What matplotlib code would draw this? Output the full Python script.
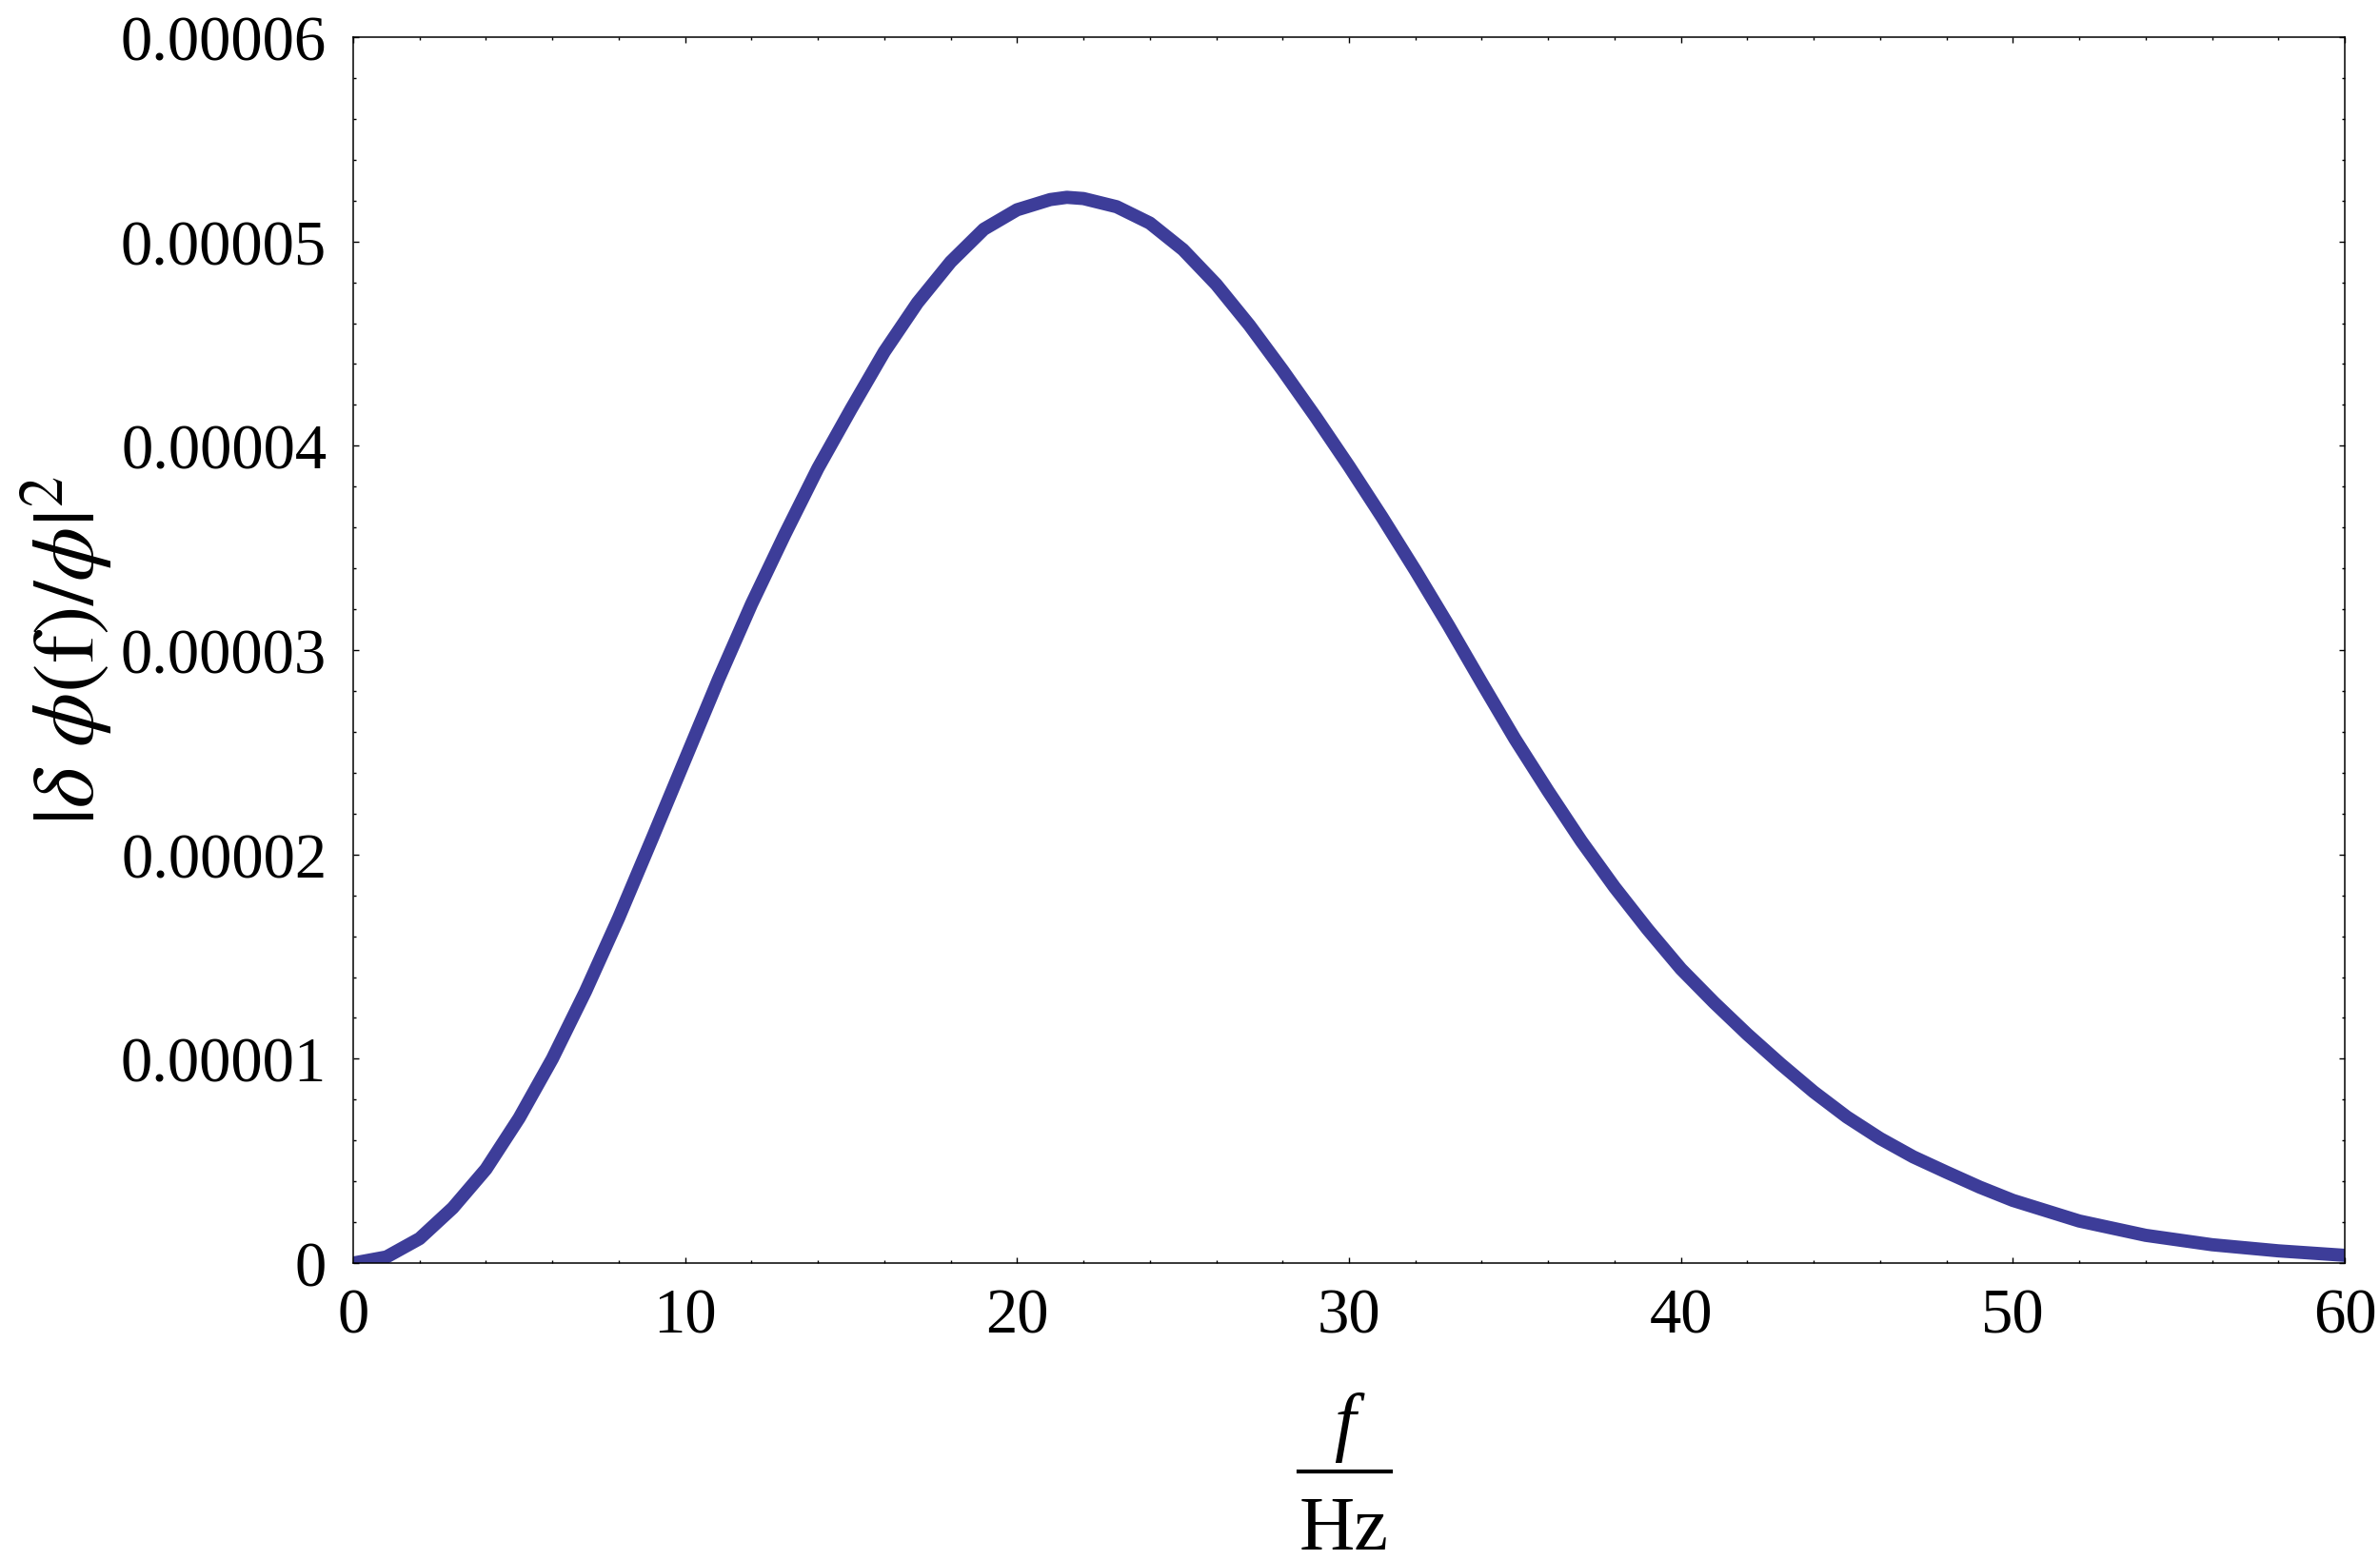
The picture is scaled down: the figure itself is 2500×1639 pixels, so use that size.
import numpy as np
import matplotlib
matplotlib.use("Agg")
import matplotlib.pyplot as plt
from matplotlib.lines import Line2D
from matplotlib.ticker import MultipleLocator, FixedLocator, FixedFormatter

# valores (f em Hz, amplitude em unidades de 1e-5)
freq = [0, 1, 2, 3, 4, 5, 6, 7, 8, 9, 10, 11, 12, 13, 14, 15, 16, 17, 18, 19,
        20, 21, 21.5, 22, 23, 24, 25, 26, 27, 28, 29, 30, 31, 32, 33, 34, 35,
        36, 37, 38, 39, 40, 41, 42, 43, 44, 45, 46, 47, 48, 49, 50, 52, 54,
        56, 58, 60]
amp = [0.0, 0.03, 0.12, 0.27, 0.46, 0.71, 1.00, 1.33, 1.69, 2.075, 2.465, 2.855,
       3.225, 3.565, 3.89, 4.18, 4.46, 4.70, 4.90, 5.06, 5.155, 5.205, 5.216,
       5.21, 5.17, 5.09, 4.96, 4.79, 4.59, 4.37, 4.14, 3.90, 3.65, 3.39,
       3.12, 2.84, 2.565, 2.31, 2.065, 1.84, 1.633, 1.44, 1.275, 1.12, 0.975,
       0.838, 0.715, 0.61, 0.52, 0.445, 0.372, 0.307, 0.206, 0.136, 0.090,
       0.060, 0.038]

xticks = [0, 10, 20, 30, 40, 50, 60]
xtick_labels = ["0", "10", "20", "30", "40", "50", "60"]
yticks = [0, 0.00001, 0.00002, 0.00003, 0.00004, 0.00005, 0.00006]
ytick_labels = ["0", "0.00001", "0.00002", "0.00003", "0.00004", "0.00005", "0.00006"]

plt.rcParams['font.family'] = ['Liberation Serif', 'DejaVu Serif']
plt.rcParams['mathtext.fontset'] = 'stix'

fig = plt.figure(figsize=(25, 16.4), dpi=100)
ax = fig.add_axes([0.1484, 0.1902, 0.8368, 0.7854])

y = np.array(amp) * 1e-5
ax.plot(freq, y, color='#3d3d99', linewidth=10, solid_joinstyle='round', clip_on=True)

ax.set_xlim(0, 60)
ax.set_ylim(0, 0.00006)

ax.xaxis.set_major_locator(FixedLocator(xticks))
ax.xaxis.set_major_formatter(FixedFormatter(xtick_labels))
ax.xaxis.set_minor_locator(MultipleLocator(2))
ax.yaxis.set_major_locator(FixedLocator(yticks))
ax.yaxis.set_major_formatter(FixedFormatter(ytick_labels))
ax.yaxis.set_minor_locator(MultipleLocator(0.000002))

ax.tick_params(which='both', direction='in', top=True, right=True, width=1.0)
ax.tick_params(which='major', length=4, labelsize=48)
ax.tick_params(which='minor', length=2.2)
ax.tick_params(axis='y', which='major', pad=20)
ax.tick_params(axis='x', which='major', pad=18)

for s in ax.spines.values():
    s.set_linewidth(1.1)

# rotulo do eixo y
ax.set_ylabel(r'$|\delta\ \phi(\mathrm{f})/\phi|^2$', fontsize=66)
ax.yaxis.set_label_coords(-0.119, 0.5)

# rotulo do eixo x como fracao f / Hz
cx = 1412 / 2500
fig.text(cx, 1 - 1520 / 1640, 'f', fontsize=58, fontstyle='italic',
         ha='center', va='baseline')
fig.add_artist(Line2D([1364 / 2500, 1461 / 2500], [1 - 1547 / 1640] * 2,
                      transform=fig.transFigure, color='black', linewidth=3))
fig.text(cx, 1 - 1628 / 1640, 'Hz', fontsize=58, ha='center', va='baseline')

fig.savefig("out.png", dpi=100, facecolor='white')
